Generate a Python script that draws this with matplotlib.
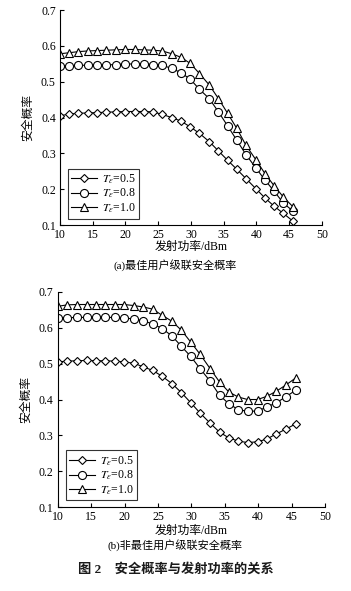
import matplotlib
matplotlib.use("Agg")
import matplotlib.pyplot as plt

plt.rcParams["font.family"] = ["Liberation Serif", "Noto Sans CJK SC"]
plt.rcParams["mathtext.fontset"] = "stix"
plt.rcParams["font.size"] = 8

# 发射功率 (dBm)
power = [10.0, 11.4, 12.8, 14.3, 15.7, 17.1, 18.5, 19.9, 21.4, 22.8, 24.2, 25.6, 27.1,
         28.5, 29.9, 31.3, 32.8, 34.2, 35.6, 37.0, 38.4, 39.9, 41.3, 42.7, 44.1, 45.6]

# (a) 最佳用户级联安全概率
a_t05 = [0.405, 0.410, 0.412, 0.413, 0.414, 0.415, 0.416, 0.417, 0.417, 0.417, 0.416, 0.409, 0.400,
         0.390, 0.374, 0.356, 0.333, 0.307, 0.281, 0.256, 0.230, 0.202, 0.176, 0.153, 0.133, 0.111]
a_t08 = [0.543, 0.544, 0.546, 0.546, 0.547, 0.547, 0.548, 0.549, 0.550, 0.550, 0.548, 0.546, 0.537,
         0.525, 0.507, 0.479, 0.453, 0.416, 0.377, 0.337, 0.297, 0.260, 0.226, 0.195, 0.162, 0.139]
a_t10 = [0.578, 0.581, 0.584, 0.586, 0.587, 0.588, 0.589, 0.590, 0.590, 0.589, 0.588, 0.586, 0.578,
         0.568, 0.551, 0.523, 0.491, 0.453, 0.412, 0.370, 0.323, 0.283, 0.244, 0.210, 0.179, 0.151]

# (b) 非最佳用户级联安全概率
b_t05 = [0.505, 0.507, 0.508, 0.509, 0.508, 0.508, 0.507, 0.505, 0.501, 0.491, 0.481, 0.465, 0.444,
         0.419, 0.391, 0.362, 0.334, 0.309, 0.293, 0.284, 0.280, 0.282, 0.290, 0.304, 0.317, 0.332]
b_t08 = [0.628, 0.628, 0.629, 0.629, 0.629, 0.629, 0.629, 0.627, 0.625, 0.619, 0.611, 0.598, 0.577,
         0.548, 0.520, 0.486, 0.451, 0.412, 0.388, 0.372, 0.367, 0.368, 0.379, 0.391, 0.407, 0.426]
b_t10 = [0.660, 0.664, 0.665, 0.665, 0.665, 0.665, 0.665, 0.665, 0.662, 0.658, 0.652, 0.635, 0.618,
         0.593, 0.560, 0.526, 0.486, 0.449, 0.421, 0.407, 0.400, 0.400, 0.409, 0.423, 0.440, 0.460]

labels = [r"$T_{\varepsilon}$=0.5", r"$T_{\varepsilon}$=0.8", r"$T_{\varepsilon}$=1.0"]
markers = ["D", "o", "^"]
msizes = [4.2, 5.8, 5.8]
xticks = [10, 15, 20, 25, 30, 35, 40, 45, 50]
yticks = [0.1, 0.2, 0.3, 0.4, 0.5, 0.6, 0.7]


def draw_panel(ax, series, xpad):
    for ys, lab, m, ms in zip(series, labels, markers, msizes):
        ax.plot(power, ys, color="black", lw=0.8, marker=m, ms=ms,
                mfc="white", mec="black", mew=0.8, label=lab)
    ax.set_xlim(10, 50)
    ax.set_ylim(0.1, 0.7)
    ax.set_xticks(xticks)
    ax.set_yticks(yticks)
    ax.set_yticklabels([f"{v:.1f}" for v in yticks])
    ax.spines["top"].set_visible(False)
    ax.spines["right"].set_visible(False)
    ax.spines["left"].set_linewidth(0.8)
    ax.spines["bottom"].set_linewidth(0.8)
    ax.tick_params(direction="in", length=3, width=0.8, labelsize=8.5, pad=3)
    ax.set_ylabel("安全概率", fontsize=8.5, labelpad=5)
    ax.set_xlabel("发射功率/dBm", fontsize=8.5, labelpad=xpad)
    leg = ax.legend(loc="lower left", bbox_to_anchor=(0.02, 0.02), frameon=True,
                    fancybox=False, edgecolor="black", fontsize=8.5,
                    handlelength=2.2, handletextpad=0.4, borderpad=0.3,
                    labelspacing=0.1, borderaxespad=0.2)
    leg.get_frame().set_linewidth(0.8)


fig = plt.figure(figsize=(3.51, 5.91), dpi=100)
ax1 = fig.add_axes([0.171, 0.619, 0.746, 0.364])
ax2 = fig.add_axes([0.165, 0.142, 0.761, 0.364])

draw_panel(ax1, [a_t05, a_t08, a_t10], 0)
draw_panel(ax2, [b_t05, b_t08, b_t10], 1)

fig.text(0.5, 1 - 265 / 591, "(a)最佳用户级联安全概率", ha="center", va="center", fontsize=8)
fig.text(0.5, 1 - 545 / 591, "(b)非最佳用户级联安全概率", ha="center", va="center", fontsize=8)
fig.text(0.5, 1 - 569 / 591, "图 2    安全概率与发射功率的关系", ha="center", va="center",
         fontsize=9.5, fontweight="bold", color="#1a1a1a")

fig.savefig("out.png", dpi=100, facecolor="white")
